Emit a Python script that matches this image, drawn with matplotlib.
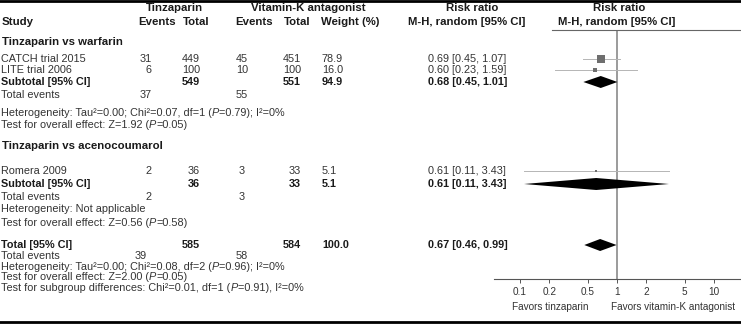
import matplotlib
matplotlib.use("Agg")
import matplotlib.pyplot as plt
import numpy as np

plt.rcParams['font.family'] = ['Liberation Sans', 'DejaVu Sans']

# study level data
studies = ["CATCH trial 2015", "LITE trial 2006", "Romera 2009"]
tz_events = [31, 6, 2]
tz_total = [449, 100, 36]
vka_events = [45, 10, 3]
vka_total = [451, 100, 33]
weight = [78.9, 16.0, 5.1]
rr = [0.69, 0.60, 0.61]
rr_lo = [0.45, 0.23, 0.11]
rr_hi = [1.07, 1.59, 3.43]

# subgroups
groups = ["Tinzaparin vs warfarin", "Tinzaparin vs acenocoumarol"]
sub_tz_total = [549, 36]
sub_vka_total = [551, 33]
sub_weight = [94.9, 5.1]
sub_rr = [0.68, 0.61]
sub_lo = [0.45, 0.11]
sub_hi = [1.01, 3.43]
sub_tz_events = [37, 2]
sub_vka_events = [55, 3]
# *P* marks the italic P
sub_het = ["Heterogeneity: Tau²=0.00; Chi²=0.07, df=1 (*P*=0.79); I²=0%",
           "Heterogeneity: Not applicable"]
sub_effect = ["Test for overall effect: Z=1.92 (*P*=0.05)",
              "Test for overall effect: Z=0.56 (*P*=0.58)"]

# overall
tot_tz_total, tot_vka_total, tot_weight = 585, 584, 100.0
tot_rr, tot_lo, tot_hi = 0.67, 0.46, 0.99
tot_tz_events, tot_vka_events = 39, 58
tot_lines = ["Heterogeneity: Tau²=0.00; Chi²=0.08, df=2 (*P*=0.96); I²=0%",
             "Test for overall effect: Z=2.00 (*P*=0.05)",
             "Test for subgroup differences: Chi²=0.01, df=1 (*P*=0.91), I²=0%"]

ticks = [0.1, 0.2, 0.5, 1, 2, 5, 10]

W, H = 741, 324
fig = plt.figure(figsize=(W / 100, H / 100), dpi=100)
tax = fig.add_axes([0, 0, 1, 1])
tax.axis('off')
tc = '#333333'
bc = '#1a1a1a'
fs = 7.8


def txt(x, y, s, ha='left', bold=False, size=fs):
    return fig.text(x / W, 1 - y / H, s, ha=ha, va='center', fontsize=size,
                    color=bc if bold else tc,
                    fontweight='bold' if bold else 'normal')


def rich(x, y, s):
    # plain text with italic P pieces chained after each other
    parts = s.split("*P*")
    prev = txt(x, y, parts[0])
    for p in parts[1:]:
        prev = tax.annotate("P", xy=(1, 0), xycoords=prev, ha='left', va='bottom',
                            fontsize=fs, color=tc, fontstyle='italic')
        if p:
            prev = tax.annotate(p, xy=(1, 0), xycoords=prev, ha='left', va='bottom',
                                fontsize=fs, color=tc)


# header
hs = 8.2
txt(174, 8, "Tinzaparin", 'center', True, hs)
txt(308, 8, "Vitamin-K antagonist", 'center', True, hs)
txt(472, 8, "Risk ratio", 'center', True, hs)
txt(619, 8, "Risk ratio", 'center', True, hs)
txt(2, 22, "Study", bold=True, size=hs)
txt(157, 22, "Events", 'center', True, hs)
txt(196, 22, "Total", 'center', True, hs)
txt(254, 22, "Events", 'center', True, hs)
txt(297, 22, "Total", 'center', True, hs)
txt(321, 22, "Weight (%)", bold=True, size=hs)
txt(467, 22, "M-H, random [95% CI]", 'center', True, hs)
txt(617, 22, "M-H, random [95% CI]", 'center', True, hs)

# row positions (px from top)
group_rows = [42, 146]
study_rows = [[59, 70], [171]]
sub_rows = [82, 184]
ev_rows = [95, 197]
het_rows = [113, 209]
eff_rows = [125, 223]
tot_row = 245
tot_ev_row = 256
tot_text_rows = [267, 277, 288]

ax = fig.add_axes([494 / W, (H - 279) / H, (W - 494) / W, (279 - 30) / H])
ax.set_xscale('log')
ax.set_xlim(10 ** ((494 - 617) / 97), 10 ** ((741 - 617) / 97))
ax.set_ylim(279, 30)

idx = 0
for g in range(len(groups)):
    txt(2, group_rows[g], groups[g], bold=True, size=hs)
    for y in study_rows[g]:
        txt(1, y, studies[idx])
        txt(152, y, str(tz_events[idx]), 'right')
        txt(200, y, str(tz_total[idx]), 'right')
        txt(242, y, str(vka_events[idx]), 'center')
        txt(301, y, str(vka_total[idx]), 'right')
        txt(322, y, f"{weight[idx]:.1f}")
        txt(428, y, f"{rr[idx]:.2f} [{rr_lo[idx]:.2f}, {rr_hi[idx]:.2f}]")
        ax.plot([rr_lo[idx], rr_hi[idx]], [y, y], color='#b5b5b5', lw=0.7, zorder=2)
        ax.plot([rr[idx]], [y], marker='s', color='#6e6e6e',
                ms=max(np.sqrt(weight[idx]) * 0.72, 1.6), mew=0, zorder=3)
        idx += 1
    y = sub_rows[g]
    txt(1, y, "Subtotal [95% CI]", bold=True)
    txt(200, y, str(sub_tz_total[g]), 'right', True)
    txt(301, y, str(sub_vka_total[g]), 'right', True)
    txt(322, y, f"{sub_weight[g]:.1f}", bold=True)
    txt(428, y, f"{sub_rr[g]:.2f} [{sub_lo[g]:.2f}, {sub_hi[g]:.2f}]", bold=True)
    ax.fill([sub_lo[g], sub_rr[g], sub_hi[g], sub_rr[g]], [y, y - 6, y, y + 6],
            color='black', lw=0, zorder=3)
    txt(1, ev_rows[g], "Total events")
    txt(152, ev_rows[g], str(sub_tz_events[g]), 'right')
    txt(242, ev_rows[g], str(sub_vka_events[g]), 'center')
    rich(1, het_rows[g], sub_het[g])
    rich(1, eff_rows[g], sub_effect[g])

# overall
txt(1, tot_row, "Total [95% CI]", bold=True)
txt(200, tot_row, str(tot_tz_total), 'right', True)
txt(301, tot_row, str(tot_vka_total), 'right', True)
txt(322, tot_row, f"{tot_weight:.1f}", bold=True)
txt(428, tot_row, f"{tot_rr:.2f} [{tot_lo:.2f}, {tot_hi:.2f}]", bold=True)
ax.fill([tot_lo, tot_rr, tot_hi, tot_rr], [tot_row, tot_row - 6, tot_row, tot_row + 6],
        color='black', lw=0, zorder=3)
txt(1, tot_ev_row, "Total events")
txt(147, tot_ev_row, str(tot_tz_events), 'right')
txt(242, tot_ev_row, str(tot_vka_events), 'center')
for y, s in zip(tot_text_rows, tot_lines):
    rich(1, y, s)

# line of no effect
ax.axvline(1, color='#8a8a8a', lw=1.2, zorder=1)

ax.set_xticks(ticks)
ax.set_xticklabels([f"{t:g}" for t in ticks])
ax.minorticks_off()
ax.tick_params(axis='x', length=3, width=0.7, color='#555555', labelsize=7.2,
               labelcolor=tc, pad=3)
ax.set_yticks([])
for s in ['top', 'right', 'left']:
    ax.spines[s].set_visible(False)
ax.spines['bottom'].set_color('#555555')
ax.spines['bottom'].set_linewidth(0.8)
ax.patch.set_alpha(0)

txt(550, 307, "Favors tinzaparin", 'center', size=7.2)
txt(673, 307, "Favors vitamin-K antagonist", 'center', size=7.2)

# rules
fig.add_artist(plt.Line2D([0, 1], [1 - 1 / H, 1 - 1 / H], color='black', lw=2))
fig.add_artist(plt.Line2D([0, 1], [1 - 322 / H, 1 - 322 / H], color='black', lw=2))
fig.add_artist(plt.Line2D([552 / W, 1], [1 - 29.5 / H, 1 - 29.5 / H], color='#666666', lw=0.8))

fig.savefig("out.png", dpi=100)
